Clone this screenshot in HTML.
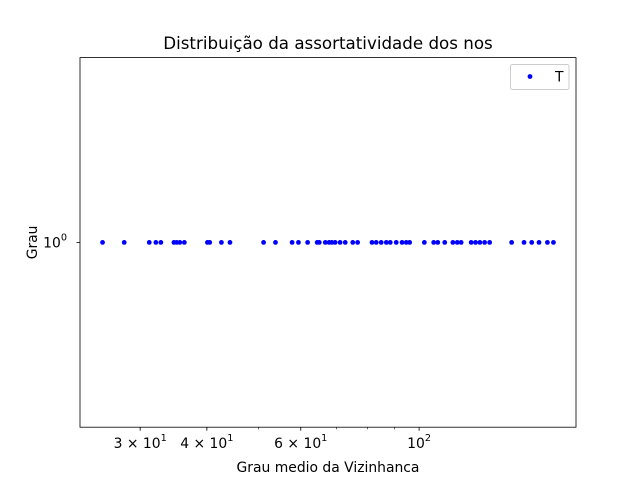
<!DOCTYPE html>
<html><head><meta charset="utf-8"><style>
body{margin:0;background:#fff;}
svg{display:block;font-family:"DejaVu Sans","Liberation Sans",sans-serif;}
</style></head><body>
<svg id="chart" width="640" height="480" viewBox="0 0 640 480">
<rect width="640" height="480" fill="#fff"/>
<text x="328" y="49" font-size="16.7" text-anchor="middle">Distribuição da assortatividade dos nos</text>
<g id="xticks"></g>
<g id="marks"></g>
<rect x="80" y="57.6" width="496" height="369.6" fill="none" stroke="#000" stroke-width="0.8"/>
<line x1="80" y1="242.4" x2="76.5" y2="242.4" stroke="#000" stroke-width="0.8"/>
<text x="67" y="247.5" font-size="13.9" text-anchor="end">10<tspan dy="-7" font-size="9.7">0</tspan></text>
<text x="32" y="242.4" font-size="13.9" text-anchor="middle" transform="rotate(-90 32 242.4)" dy="5">Grau</text>
<text x="328" y="472" font-size="13.9" text-anchor="middle">Grau medio da Vizinhanca</text>
<g>
<rect x="510.5" y="64.5" width="58.5" height="25" rx="2" fill="#fff" stroke="#ccc" stroke-width="1"/>
<circle cx="530" cy="76.5" r="2.4" fill="#0000ff"/>
<text x="555" y="81.5" font-size="13.9">T</text>
</g>
</svg>
<script>
const xValues=[25.5,28.0,31.2,32.1,32.8,34.7,35.1,35.6,36.3,40.1,40.5,42.6,44.2,51.1,53.8,57.8,59.4,61.8,64.4,65.0,66.7,67.8,68.6,69.6,71.1,72.7,75.1,76.7,81.6,83.1,84.9,86.8,88.3,90.6,92.9,94.6,96.0,102.3,106.5,108.4,111.7,115.7,117.9,119.9,125.2,127.6,130.0,132.7,135.6,149.1,157.3,162.6,167.8,174.0,178.6];
const yValues=xValues.map(()=>1);
const xTickValues=[30,40,60,100];
const xTickBases=["3 × 10","4 × 10","6 × 10","10"];
const xTickExps=["1","1","1","2"];
const xMinorValues=[20,30,40,50,60,70,80,90,200];
const NS="http://www.w3.org/2000/svg";
const L=80,R=576,T=57.6,B=427.2;
const lmin=Math.log10(Math.min(...xValues)),lmax=Math.log10(Math.max(...xValues));
const m=(lmax-lmin)*0.05;
const x0=lmin-m,x1=lmax+m;
function xs(v){return L+(Math.log10(v)-x0)/(x1-x0)*(R-L);}
function ys(v){return (T+B)/2 - Math.log10(v)*(B-T)/0.1;}
const g=document.getElementById('marks');
xValues.forEach((v,i)=>{const c=document.createElementNS(NS,'circle');
c.setAttribute('cx',xs(v));c.setAttribute('cy',ys(yValues[i]));c.setAttribute('r',2.4);c.setAttribute('fill','#0000ff');


g.appendChild(c);});
const xt=document.getElementById('xticks');
xMinorValues.forEach(v=>{const x=xs(v);if(x<L||x>R)return;const l=document.createElementNS(NS,'line');
l.setAttribute('x1',x);l.setAttribute('x2',x);l.setAttribute('y1',B);l.setAttribute('y2',B+2);l.setAttribute('stroke','#000');l.setAttribute('stroke-width','0.6');


xt.appendChild(l);});
xTickValues.forEach((v,i)=>{const x=xs(v);const l=document.createElementNS(NS,'line');
l.setAttribute('x1',x);l.setAttribute('x2',x);l.setAttribute('y1',B);l.setAttribute('y2',B+3.5);l.setAttribute('stroke','#000');l.setAttribute('stroke-width','0.8');


xt.appendChild(l);
const t=document.createElementNS(NS,'text');t.setAttribute('x',x);t.setAttribute('y',B+21);t.setAttribute('font-size','13.9');t.setAttribute('text-anchor','middle');t.setAttribute('xml:space','preserve');t.style.whiteSpace='pre';
t.textContent=xTickBases[i];const ts=document.createElementNS(NS,'tspan');ts.setAttribute('dy','-7');ts.setAttribute('font-size','9.7');
ts.textContent=xTickExps[i];t.appendChild(ts);


xt.appendChild(t);});
</script>
</body></html>
